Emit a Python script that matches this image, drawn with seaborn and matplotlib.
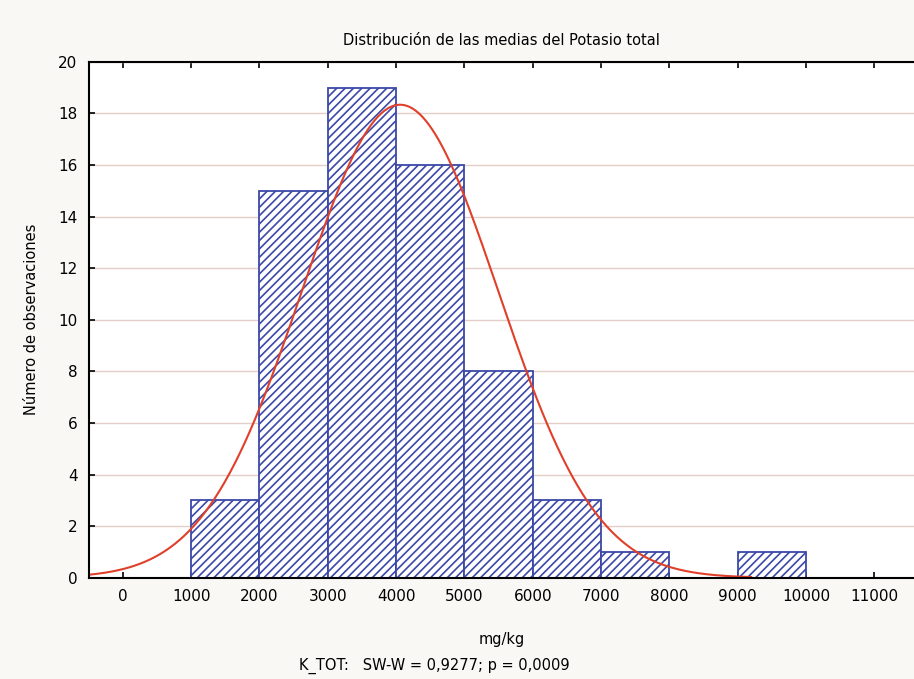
import numpy as np
import pandas as pd
import matplotlib
matplotlib.use("Agg")
import matplotlib.pyplot as plt
import seaborn as sns

# Datos del histograma
bin_edges = [1000, 2000, 3000, 4000, 5000, 6000, 7000, 8000, 9000, 10000]
counts = [3, 15, 19, 16, 8, 3, 1, 0, 1]

# Ajuste normal (media y desviación estimadas)
media = 4058
desv = 1436
n_total = sum(counts)
ancho_bin = 1000

x_ticks = [0, 1000, 2000, 3000, 4000, 5000, 6000, 7000, 8000, 9000, 10000, 11000]
y_ticks = [0, 2, 4, 6, 8, 10, 12, 14, 16, 18, 20]

sns.set_style("white")
plt.rcParams["font.family"] = ["DejaVu Sans"]
plt.rcParams["hatch.linewidth"] = 1.2

fig = plt.figure(figsize=(9.14, 6.79), dpi=100, facecolor="#f9f8f5")
ax = fig.add_axes([0.097, 0.149, 0.903, 0.76])
ax.set_facecolor("white")

centros = [e + ancho_bin / 2 for e in bin_edges[:-1]]
df = pd.DataFrame({"centro": centros, "n": counts})
sns.histplot(data=df, x="centro", weights="n", bins=bin_edges, ax=ax,
             stat="count", fill=True, color="white", edgecolor="#3b48a8",
             linewidth=1.3, alpha=1)
for p in ax.patches:
    p.set_hatch("////")
    p.set_facecolor("white")
    p.set_edgecolor("#3b48a8")

# curva normal
xs = np.linspace(-500, 9200, 400)
ys = n_total * ancho_bin / (desv * np.sqrt(2 * np.pi)) * np.exp(-0.5 * ((xs - media) / desv) ** 2)
sns.lineplot(x=xs, y=ys, ax=ax, color="#e0402a", linewidth=1.5)

ax.set_xlim(-500, 11580)
ax.set_ylim(0, 20)
ax.set_xticks(x_ticks)
ax.set_yticks(y_ticks)
ax.tick_params(axis="both", direction="in", length=4, width=1.2, labelsize=11,
               top=True, left=True, bottom=True, pad=8, colors="black")
ax.set_axisbelow(True)
ax.yaxis.grid(True, color="#e3cfc8", linewidth=1)
for s in ["left", "bottom", "top"]:
    ax.spines[s].set_color("black")
    ax.spines[s].set_linewidth(1.5)
ax.spines["right"].set_visible(False)

ax.set_title("Distribución de las medias del Potasio total", fontsize=10.5, pad=12, color="black")
ax.set_xlabel("mg/kg", fontsize=10.5, labelpad=20, color="black")
ax.set_ylabel("Número de observaciones", fontsize=10.5, labelpad=14, color="black")
fig.text(0.475, 0.013, "K_TOT:   SW-W = 0,9277; p = 0,0009", fontsize=10.5, ha="center", color="black")

fig.savefig("out.png", dpi=100, facecolor=fig.get_facecolor())
